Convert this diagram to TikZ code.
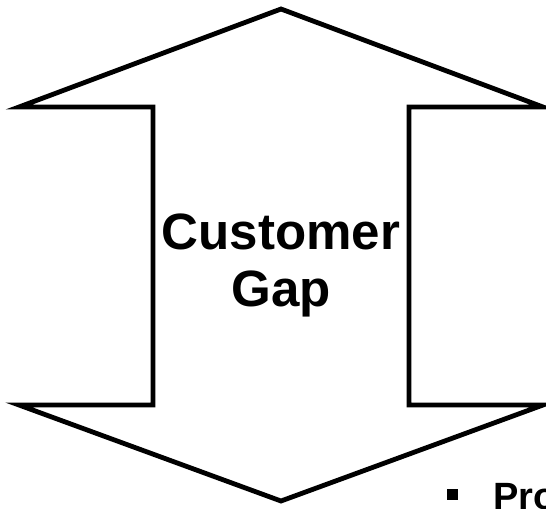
\documentclass[tikz,border=0pt]{standalone}
\usepackage{fontspec}
\setmainfont{Liberation Sans}
\begin{document}
\begin{tikzpicture}[x=0.75pt,y=-0.75pt,
    outline/.style={draw=black,line width=3.6pt,line join=miter},
    gaptext/.style={align=center,inner sep=0pt,font=\bfseries\fontsize{38.3}{42.8}\selectfont},
    bulletbox/.style={fill=black,minimum size=8.2pt,inner sep=0pt}]
    \useasboundingbox (0,0) rectangle (546,508);

    % double arrow
    \draw[outline] (281,9) -- (543,107) -- (409,107) -- (409,405) -- (543,405)
      -- (281,501) -- (19,405) -- (153,405) -- (153,107) -- (19,107) -- cycle;

    \node[gaptext] (gap) at (281,265) {Customer\\Gap};

    % cut off list item
    \node[bulletbox] (bullet) at (452.5,494.5) {};
    \node[anchor=base west,inner sep=0pt,font=\bfseries\fontsize{28.5}{32}\selectfont] (pro) at (493,509.5) {Pro};
\end{tikzpicture}
\end{document}
